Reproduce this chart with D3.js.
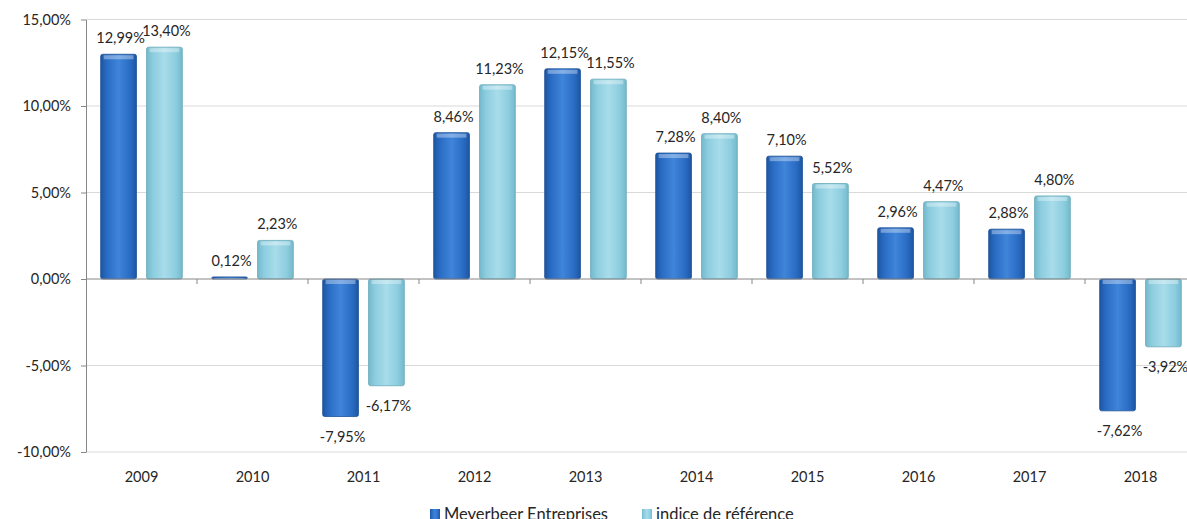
<!DOCTYPE html>
<html>
    <head>
        <meta charset="utf-8">
        <title></title>
        <style>
            body { margin: 0; background: #fff; }
            svg text { font-family: Lato, "Open Sans", sans-serif; fill: #262626; }
            .grid line { stroke: #d9d9d9; }
            .axis path, .axis line { stroke: #868686; }
        </style>
    </head>
    <body>
        <svg class="drawing"></svg>
        <script src="https://cdn.jsdelivr.net/npm/d3@7"></script>
        <script>
            var w = 1187;
            var h = 519;

            var years = ['2009', '2010', '2011', '2012', '2013', '2014', '2015', '2016', '2017', '2018'];
            var seriesNames = ['Meyerbeer Entreprises', 'indice de référence'];
            var meyerbeer = [12.99, 0.12, -7.95, 8.46, 12.15, 7.28, 7.10, 2.96, 2.88, -7.62];
            var indice = [13.40, 2.23, -6.17, 11.23, 11.55, 8.40, 5.52, 4.47, 4.80, -3.92];
            var yTicks = [-10, -5, 0, 5, 10, 15];

            var plotLeft = 86, plotTop = 19.5, plotBottom = 452;
            var bandW = 111;

            var x0 = d3.scaleBand()
                .domain(years)
                .range([plotLeft, plotLeft + bandW * years.length]);
            var x1 = d3.scaleBand()
                .domain([0, 1])
                .range([0, x0.bandwidth()])
                .paddingInner(0.22)
                .paddingOuter(0.32);
            var y = d3.scaleLinear()
                .domain([-10, 15])
                .range([plotBottom, plotTop]);

            var fmt = v => v.toFixed(2).replace('.', ',') + '%';

            var svg = d3.select('.drawing')
                .attr('width', w)
                .attr('height', h);

            // gradients for the bevelled Excel bars
            var defs = svg.append('defs');
            var cols = [
                ['#1d56a3', '#3f85da', '#2a6cc4'],
                ['#74b9cc', '#a8dcea', '#8ccddf']
            ];
            cols.forEach(function(c, i) {
                var g = defs.append('linearGradient')
                    .attr('id', 'g' + i)
                    .attr('x1', 0).attr('x2', 1).attr('y1', 0).attr('y2', 0);
                g.append('stop').attr('offset', '0%').attr('stop-color', c[0]);
                g.append('stop').attr('offset', '18%').attr('stop-color', c[2]);
                g.append('stop').attr('offset', '50%').attr('stop-color', c[1]);
                g.append('stop').attr('offset', '82%').attr('stop-color', c[2]);
                g.append('stop').attr('offset', '100%').attr('stop-color', c[0]);
            });

            // grid
            svg.append('g')
                .attr('class', 'grid')
                .selectAll('line')
                .data(yTicks.filter(d => d !== 0))
                .enter()
                    .append('line')
                    .attr('x1', plotLeft)
                    .attr('x2', w)
                    .attr('y1', d => y(d))
                    .attr('y2', d => y(d));

            // y axis
            var yAxis = svg.append('g')
                .attr('class', 'axis')
                .attr('transform', 'translate(' + plotLeft + ',0)')
                .call(d3.axisLeft(y).tickValues(yTicks).tickSize(5).tickSizeOuter(0).tickPadding(10).tickFormat(d => fmt(d)));
            yAxis.selectAll('text').style('font-size', '14.5px');

            var rows = years.map((yr, i) => ({year: yr, vals: [meyerbeer[i], indice[i]]}));

            var groups = svg.append('g')
                .selectAll('g')
                .data(rows)
                .enter()
                    .append('g')
                    .attr('transform', d => 'translate(' + x0(d.year) + ',0)');

            var bars = groups.selectAll('.bar')
                .data(d => d.vals.map((v, k) => ({k: k, v: v})))
                .enter();
            bars.append('rect')
                .attr('x', d => x1(d.k))
                .attr('width', x1.bandwidth())
                .attr('y', d => y(Math.max(0, d.v)))
                .attr('height', d => Math.abs(y(d.v) - y(0)))
                .attr('rx', 2)
                .attr('fill', d => 'url(#g' + d.k + ')')
                .attr('stroke', d => d.k ? '#6aa9ba' : '#1c4f94')
                .attr('stroke-width', 0.8);
            // bevel highlight on the bar end
            bars.append('rect')
                .attr('x', d => x1(d.k) + 3)
                .attr('width', x1.bandwidth() - 6)
                .attr('y', d => d.v >= 0 ? y(d.v) + 1 : y(0) + 1)
                .attr('height', d => Math.min(4, Math.abs(y(d.v) - y(0)) / 2))
                .attr('fill', '#fff')
                .attr('opacity', 0.35);
            bars.append('text')
                .attr('x', d => x1(d.k) + x1.bandwidth() / 2 + 2)
                .attr('y', d => d.v >= 0 ? y(d.v) - 16 : y(d.v) + 20)
                .attr('dy', '0.35em')
                .attr('text-anchor', 'middle')
                .style('font-size', '14.5px')
                .text(d => fmt(d.v));

            // zero axis with category ticks
            var xAxis = svg.append('g')
                .attr('class', 'axis')
                .attr('transform', 'translate(0,' + y(0) + ')');
            xAxis.append('line')
                .attr('x1', plotLeft).attr('x2', w);
            xAxis.selectAll('.tk')
                .data(years)
                .enter()
                    .append('line')
                    .attr('x1', d => x0(d) + bandW)
                    .attr('x2', d => x0(d) + bandW)
                    .attr('y1', 0)
                    .attr('y2', 5);

            // category labels below the plot
            svg.append('g')
                .selectAll('text')
                .data(years)
                .enter()
                    .append('text')
                    .attr('x', d => x0(d) + bandW / 2)
                    .attr('y', 482)
                    .attr('text-anchor', 'middle')
                    .style('font-size', '14.5px')
                    .text(d => d);

            // legend (cut by the bottom edge, as in the original)
            var lx = [430, 642];
            var legend = svg.append('g')
                .selectAll('g')
                .data(seriesNames)
                .enter()
                    .append('g')
                    .attr('transform', (d, i) => 'translate(' + lx[i] + ',520)');
            legend.append('rect')
                .attr('x', 0).attr('y', -11)
                .attr('width', 10).attr('height', 10)
                .attr('fill', (d, i) => 'url(#g' + i + ')');
            legend.append('text')
                .attr('x', 14)
                .attr('y', 0)
                .style('font-size', '16.5px')
                .text(d => d);
        </script>
    </body>
</html>
